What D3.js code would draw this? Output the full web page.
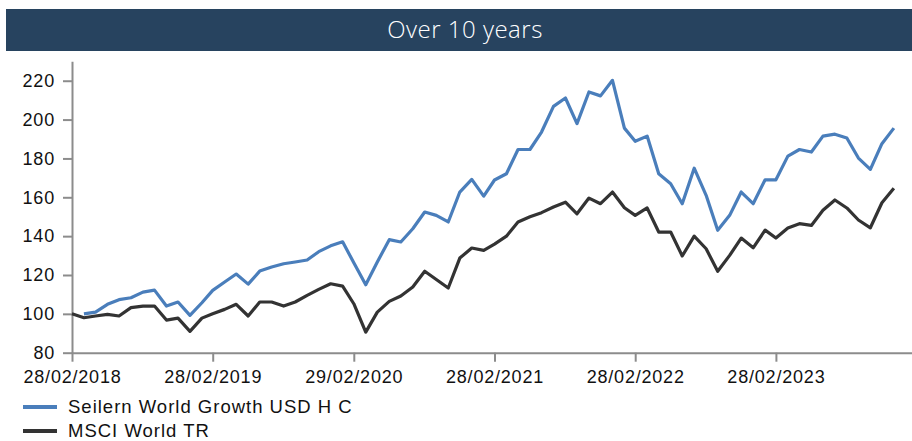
<!DOCTYPE html>
<html>
<head>
<meta charset="utf-8">
<script src="https://cdn.jsdelivr.net/npm/d3@7"></script>
<style>
  body { margin: 0; background: #fff; }
  .axis path, .axis line { stroke: #8c8c8c; stroke-width: 2px; }
  .axis text { font-family: "Liberation Sans", Arial, sans-serif; font-size: 18px; fill: #111; letter-spacing: 0.8px; }
</style>
</head>
<body>
<div id="chart"></div>
<script>
//Months (month-end values)
var months = [
  "2018-02","2018-03","2018-04","2018-05","2018-06","2018-07","2018-08","2018-09","2018-10","2018-11","2018-12",
  "2019-01","2019-02","2019-03","2019-04","2019-05","2019-06","2019-07","2019-08","2019-09","2019-10","2019-11","2019-12",
  "2020-01","2020-02","2020-03","2020-04","2020-05","2020-06","2020-07","2020-08","2020-09","2020-10","2020-11","2020-12",
  "2021-01","2021-02","2021-03","2021-04","2021-05","2021-06","2021-07","2021-08","2021-09","2021-10","2021-11","2021-12",
  "2022-01","2022-02","2022-03","2022-04","2022-05","2022-06","2022-07","2022-08","2022-09","2022-10","2022-11","2022-12",
  "2023-01","2023-02","2023-03","2023-04","2023-05","2023-06","2023-07","2023-08","2023-09","2023-10","2023-11","2023-12"
];

//Fund starts one month after the index
var seilern = [
  null, 100.0, 100.9, 104.9, 107.3, 108.3, 111.2, 112.2, 104.0, 106.1, 99.2,
  105.7, 112.1, 116.4, 120.5, 115.3, 122.0, 124.1, 125.8, 126.7, 127.7, 132.0,
  135.0, 137.1, 126.3, 115.0, 126.7, 138.2, 137.0, 143.8, 152.4, 150.7, 147.3,
  162.7, 169.2, 160.6, 168.9, 172.1, 184.6, 184.6, 193.6, 206.8, 211.1, 197.9,
  214.2, 212.2, 220.2, 195.6, 188.8, 191.5, 172.1, 167.0, 156.7, 175.0, 161.0,
  143.0, 150.7, 162.7, 156.7, 169.0, 169.0, 181.2, 184.6, 183.3, 191.5, 192.5,
  190.5, 180.2, 174.4, 187.6, 195.6
];

var msci = [
  100.0, 98.0, 98.9, 99.7, 98.9, 103.2, 104.0, 104.0, 96.8, 97.8, 91.0,
  97.8, 100.1, 102.3, 104.9, 98.9, 106.1, 106.1, 104.0, 106.1, 109.5, 112.6,
  115.5, 114.3, 105.2, 90.6, 100.9, 106.4, 109.2, 113.8, 121.9, 117.7, 113.3,
  128.7, 133.9, 132.7, 135.9, 140.0, 147.3, 150.0, 152.1, 155.0, 157.5, 151.5,
  159.6, 156.7, 162.7, 154.6, 150.7, 154.5, 142.1, 142.1, 129.8, 140.0, 133.5,
  121.9, 130.1, 139.0, 134.0, 143.1, 139.0, 144.2, 146.4, 145.5, 153.3, 158.6,
  154.5, 148.3, 144.3, 157.2, 164.7
];

var seriesNames = ["Seilern World Growth USD H C", "MSCI World TR"];
var seriesColors = ["#4a7ebb", "#333333"];
var yTicks = [80, 100, 120, 140, 160, 180, 200, 220];
var xTickMonths = ["2018-02", "2019-02", "2020-02", "2021-02", "2022-02", "2023-02"];
var title = "Over 10 years";

//Width and height
var w = 912;
var h = 441;

//Month string -> last day of that month
var parseMonth = d3.timeParse("%Y-%m");
var monthEnd = function(s) {
  var d = parseMonth(s);
  return new Date(d.getFullYear(), d.getMonth() + 1, 0);
};
var formatTime = d3.timeFormat("%d/%m/%Y");

var dates = months.map(monthEnd);

var svg = d3.select("#chart")
  .append("svg")
  .attr("width", w)
  .attr("height", h);

//Title band
svg.append("rect")
  .attr("x", 6)
  .attr("y", 9)
  .attr("width", w - 6)
  .attr("height", 42)
  .attr("fill", "#27435f");

svg.append("text")
  .attr("x", 465)
  .attr("y", 30)
  .attr("dy", "0.35em")
  .attr("text-anchor", "middle")
  .attr("fill", "#fff")
  .style("font-family", "'Open Sans', 'Noto Sans', sans-serif")
  .style("font-size", "24px")
  .style("font-weight", 300)
  .style("letter-spacing", "0.5px")
  .text(title);

//Scales
var xScale = d3.scaleTime()
  .domain([monthEnd("2018-02"), monthEnd("2024-02")])
  .range([72, 917]);

var yScale = d3.scaleLinear()
  .domain([80, 230])
  .range([352.7, 61.3]);

//Axes
var xAxis = d3.axisBottom(xScale)
  .tickValues(xTickMonths.map(monthEnd))
  .tickSize(9)
  .tickSizeOuter(0)
  .tickPadding(9)
  .tickFormat(formatTime);

var yAxis = d3.axisLeft(yScale)
  .tickValues(yTicks)
  .tickSize(9)
  .tickSizeOuter(0)
  .tickPadding(8);

svg.append("g")
  .attr("class", "axis x")
  .attr("transform", "translate(0," + yScale(80) + ")")
  .call(xAxis);

svg.append("g")
  .attr("class", "axis y")
  .attr("transform", "translate(" + xScale(dates[0]) + ",0)")
  .call(yAxis);

//Lines
var line = d3.line()
  .defined(function(d) { return d[1] != null; })
  .x(function(d) { return xScale(d[0]); })
  .y(function(d) { return yScale(d[1]); });

[seilern, msci].forEach(function(values, i) {
  svg.append("path")
    .datum(dates.map(function(d, j) { return [d, values[j]]; }))
    .attr("fill", "none")
    .attr("stroke", seriesColors[i])
    .attr("stroke-width", 3.2)
    .attr("stroke-linejoin", "round")
    .attr("d", line);
});

//Legend
var legend = svg.selectAll("g.legend")
  .data(seriesNames)
  .enter()
  .append("g")
  .attr("class", "legend")
  .attr("transform", function(d, i) { return "translate(0," + (407 + i * 24) + ")"; });

legend.append("line")
  .attr("x1", 23)
  .attr("x2", 57)
  .attr("stroke", function(d, i) { return seriesColors[i]; })
  .attr("stroke-width", 4);

legend.append("text")
  .attr("x", 68)
  .attr("dy", "0.35em")
  .style("font-family", "'Liberation Sans', Arial, sans-serif")
  .style("font-size", "18.5px")
  .style("letter-spacing", "1px")
  .attr("fill", "#111")
  .text(function(d) { return d; });
</script>
</body>
</html>
